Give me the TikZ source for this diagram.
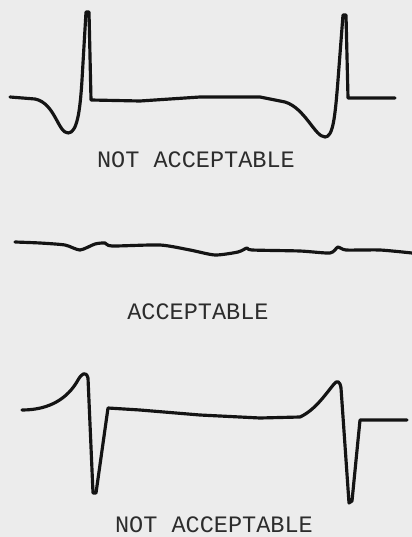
\documentclass[tikz,border=0pt]{standalone}
\usepackage{fontspec}
\setmonofont{Liberation Mono}
\usepackage{tikz}
\definecolor{paper}{RGB}{236,236,236}
\definecolor{ink}{RGB}{20,20,20}

\begin{document}
\begin{tikzpicture}[
    x=0.02cm, y=-0.02cm,
    trace/.style={draw=ink, line width=1.8pt, line join=round, line cap=round},
    label/.style={font=\fontsize{13.4}{16}\selectfont\ttfamily, text=ink!90, inner sep=0pt}
]
\fill[paper] (0,0) rectangle (412,537);
\useasboundingbox (0,0) rectangle (412,537);

% top trace: two sharp R spikes after deep dips
\draw[trace] (10,97) -- (35,99) .. controls (55,103) and (58,133) .. (68,133)
    .. controls (77,133) and (80,112) .. (82,80) -- (86,12) -- (89,12) -- (91,100)
    -- (140,101) -- (200,97) -- (260,97) -- (285,102)
    .. controls (305,108) and (315,137) .. (325,137)
    .. controls (333,137) and (335,118) .. (338,80) -- (343,15) -- (346,15) -- (348,98) -- (395,98);
\node[label] (top) at (196,160) {NOT ACCEPTABLE};

% middle trace: nearly flat
\draw[trace] plot[smooth, tension=0.4] coordinates {(15,242) (40,243) (65,245) (80,250) (95,244) (105,243)
    (112,246) (160,245) (190,250) (215,255) (238,252) (247,248) (252,250) (300,251) (330,253)
    (338,247) (346,250) (380,250) (412,253)};
\node[label] (mid) at (198,312) {ACCEPTABLE};

% bottom trace: rounded peaks, then deep downward spikes
\draw[trace] (22,410) .. controls (50,410) and (68,398) .. (78,380)
    .. controls (82,373) and (86,371) .. (88,378) -- (93,493) -- (96,493)
    -- (108,408) -- (140,410) -- (200,415) -- (260,418) -- (300,417)
    .. controls (315,410) and (325,395) .. (334,384)
    .. controls (337,380) and (340,381) .. (341,388) -- (349,503) -- (352,501)
    -- (360,420) -- (407,420);
\node[label] (bot) at (214,525) {NOT ACCEPTABLE};
\end{tikzpicture}
\end{document}
